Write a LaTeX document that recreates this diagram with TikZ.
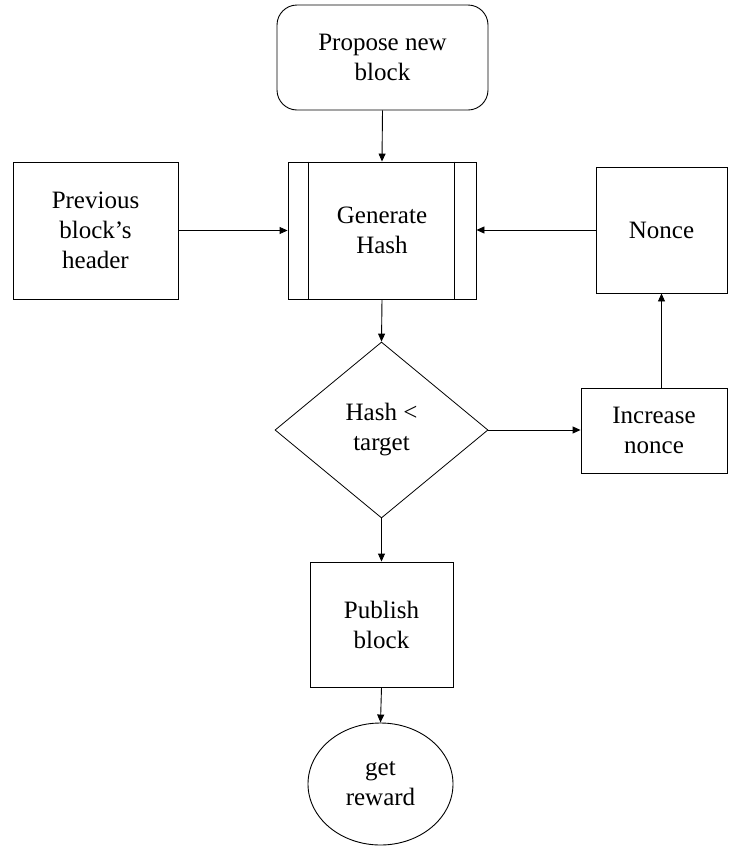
\documentclass[tikz,border=0pt]{standalone}
\usepackage{fontspec}
\setmainfont{Liberation Serif}
\usetikzlibrary{shapes.geometric,arrows.meta,calc}

\begin{document}
\begin{tikzpicture}[x=1pt,y=1pt,
  every node/.style={font=\fontsize{25}{30}\selectfont, align=center, inner sep=0pt},
  box/.style={draw, line width=0.9pt, rectangle},
  procbox/.style={box},
  roundbox/.style={box, rounded corners=20pt},
  decision/.style={draw, line width=0.8pt, diamond, aspect=1.2},
  terminal/.style={draw, line width=0.9pt, ellipse},
  flow/.style={draw, line width=0.9pt, -{Triangle[length=8pt,width=7pt]}}
]
\useasboundingbox (0,0) rectangle (734,-847);

% blocks
\node[roundbox, minimum width=211pt, minimum height=105pt] (propose) at (382.5,-57.5) {Propose new\\block};
\node[procbox, minimum width=188pt, minimum height=137pt] (gen) at (382,-230.5) {Generate\\Hash};
\draw[line width=0.9pt] ([xshift=21pt]gen.north west) -- ([xshift=21pt]gen.south west)
                        ([xshift=-22pt]gen.north east) -- ([xshift=-22pt]gen.south east);
\node[box, minimum width=165pt, minimum height=137pt] (prev) at (95.5,-230.5) {Previous\\block’s\\header};
\node[box, minimum width=131pt, minimum height=126pt] (nonce) at (661.5,-230) {Nonce};
\node[decision, minimum width=213pt, minimum height=176pt] (check) at (381.5,-430) {Hash <\\target};
\node[box, minimum width=146pt, minimum height=85pt] (inc) at (654,-430.5) {Increase\\nonce};
\node[box, minimum width=143pt, minimum height=125pt] (publish) at (381.5,-624.5) {Publish\\block};
\node[terminal, minimum width=145pt, minimum height=122pt] (reward) at (380.5,-784) {get\\reward};

% connectors
\coordinate (incup) at (inc.north -| nonce.south);
\draw[flow] (propose.south) -- (gen.north);
\draw[flow] (prev.east) -- (prev.east -| gen.west);
\draw[flow] (nonce.west) -- (nonce.west -| gen.east);
\draw[flow] (gen.south) -- (check.north);
\draw[flow] (check.east) -- (check.east -| inc.west);
\draw[flow] (incup) -- (nonce.south);
\draw[flow] (check.south) -- (publish.north);
\draw[flow] (publish.south) -- (reward.north);
\end{tikzpicture}
\end{document}
